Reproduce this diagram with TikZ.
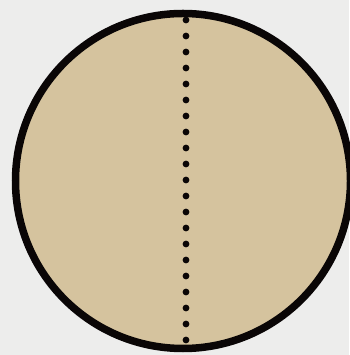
\documentclass[tikz,border=0pt]{standalone}
\usetikzlibrary{calc}
\definecolor{bgcol}{HTML}{EDEDEC}
\definecolor{tan}{HTML}{D5C39E}
\definecolor{ink}{HTML}{0A0606}
\begin{document}
\begin{tikzpicture}[x=1pt,y=1pt,
  rim/.style={draw=ink,line width=7.5pt,fill=tan},
  dotmark/.style={fill=ink}]
\fill[bgcol] (0,0) rectangle (349,355);
\useasboundingbox (0,0) rectangle (349,355);
\coordinate (c) at (183,174);
\draw[rim] (c) circle (167.5);
\coordinate (top) at (186,335);
\coordinate (bot) at (186,15);
\foreach \i in {0,...,20}{
  \fill[dotmark] ($(top)!\i/20!(bot)$) circle (3.4);
}
\end{tikzpicture}
\end{document}
